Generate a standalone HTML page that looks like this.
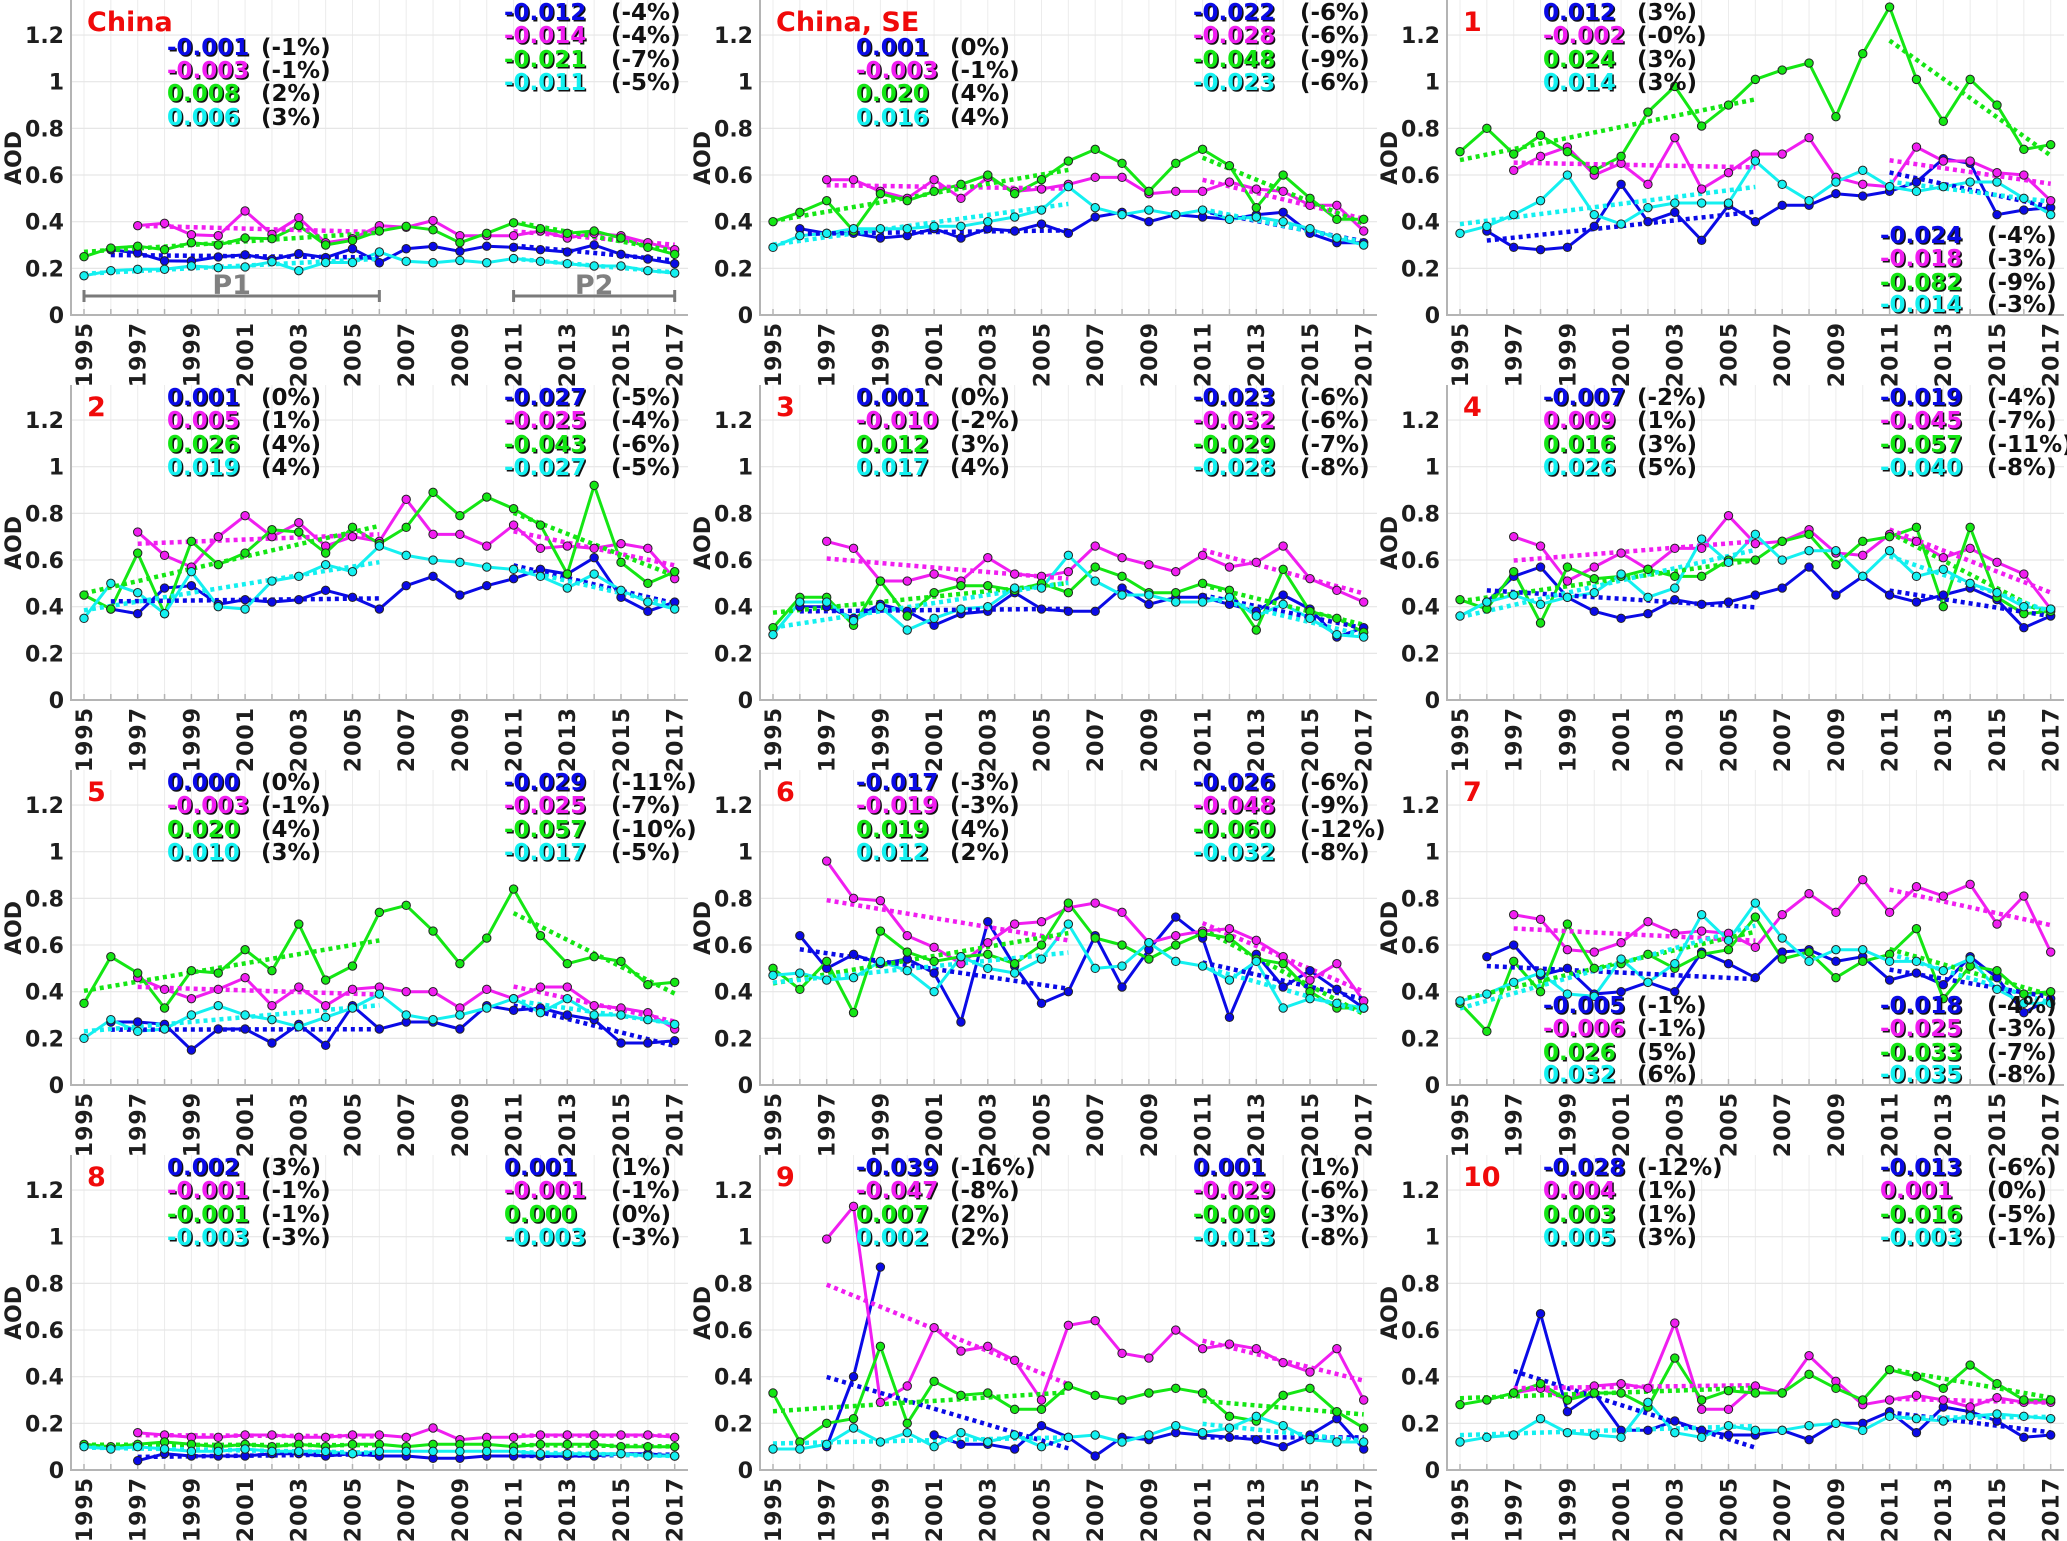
<!DOCTYPE html>
<html><head><meta charset="utf-8"><title>AOD trends</title>
<style>
html,body{margin:0;padding:0;background:#fff;}
svg{display:block;}
text{font-family:"DejaVu Sans","Liberation Sans",sans-serif;font-weight:bold;}
</style></head>
<body>
<svg id="chart" xmlns="http://www.w3.org/2000/svg" width="2067" height="1541" viewBox="0 0 2067 1541"></svg>
<script>
const years = [1995,1996,1997,1998,1999,2000,2001,2002,2003,2004,2005,2006,2007,2008,2009,2010,2011,2012,2013,2014,2015,2016,2017];
const yTicks = [0,0.2,0.4,0.6,0.8,1,1.2];
const yTickLabels = ["0","0.2","0.4","0.6","0.8","1","1.2"];
const panelTitles = ["China","China, SE","1","2","3","4","5","6","7","8","9","10"];

const p0Blue=[null,.28,.266,.232,.231,.249,.258,.238,.263,.246,.284,.224,.284,.294,.273,.295,.29,.28,.27,.30,.26,.24,.22];
const p0Mag=[null,null,.383,.393,.344,.34,.446,.346,.417,.31,.327,.383,.376,.405,.34,.34,.34,.36,.33,.35,.34,.31,.28];
const p0Green=[.25,.287,.295,.28,.31,.30,.33,.327,.383,.30,.32,.36,.38,.365,.31,.35,.395,.37,.35,.36,.33,.29,.26];
const p0Cyan=[.168,.19,.196,.196,.21,.203,.206,.228,.19,.225,.225,.27,.23,.224,.234,.224,.242,.23,.22,.21,.21,.19,.18];

const p1Blue=[null,.37,.35,.35,.33,.34,.37,.33,.37,.36,.39,.35,.42,.44,.40,.43,.42,.41,.43,.44,.35,.31,.31];
const p1Mag=[null,null,.58,.58,.53,.50,.58,.50,.59,.53,.54,.56,.59,.59,.52,.53,.53,.57,.54,.53,.47,.47,.36];
const p1Green=[.40,.44,.49,.36,.52,.49,.53,.56,.60,.52,.58,.66,.71,.65,.53,.65,.71,.64,.46,.60,.50,.41,.41];
const p1Cyan=[.29,.34,.35,.37,.37,.37,.38,.38,.40,.42,.45,.55,.46,.43,.45,.43,.45,.41,.42,.40,.37,.33,.30];

const p2Blue=[null,.36,.29,.28,.29,.38,.56,.40,.44,.32,.47,.40,.47,.47,.52,.51,.53,.57,.67,.65,.43,.45,.46];
const p2Mag=[null,null,.62,.68,.72,.60,.65,.56,.76,.54,.61,.69,.69,.76,.59,.56,.55,.72,.66,.66,.61,.60,.49];
const p2Green=[.70,.80,.69,.77,.70,.62,.68,.87,.98,.81,.90,1.01,1.05,1.08,.85,1.12,1.32,1.01,.83,1.01,.90,.71,.73];
const p2Cyan=[.35,.38,.43,.49,.60,.43,.39,.46,.48,.48,.48,.66,.56,.49,.57,.62,.55,.53,.55,.57,.57,.50,.43];

const p3Blue=[null,.39,.37,.48,.49,.41,.43,.42,.43,.47,.44,.39,.49,.53,.45,.49,.52,.56,.54,.61,.44,.38,.42];
const p3Mag=[null,null,.72,.62,.57,.70,.79,.70,.76,.66,.70,.68,.86,.71,.71,.66,.75,.65,.66,.65,.67,.65,.52];
const p3Green=[.45,.39,.63,.37,.68,.58,.63,.73,.72,.63,.74,.67,.74,.89,.79,.87,.82,.75,.54,.92,.59,.50,.55];
const p3Cyan=[.35,.50,.46,.37,.55,.40,.39,.51,.53,.58,.55,.66,.62,.60,.59,.57,.56,.53,.48,.54,.47,.42,.39];

const p4Blue=[null,.40,.40,.35,.41,.38,.32,.37,.38,.46,.39,.38,.38,.48,.41,.44,.44,.41,.38,.45,.39,.27,.31];
const p4Mag=[null,null,.68,.65,.51,.51,.54,.51,.61,.54,.53,.55,.66,.61,.58,.55,.62,.57,.59,.66,.52,.47,.42];
const p4Green=[.31,.44,.44,.32,.51,.36,.46,.49,.49,.47,.50,.46,.57,.53,.46,.46,.50,.47,.30,.56,.38,.35,.29];
const p4Cyan=[.28,.42,.42,.34,.40,.30,.35,.39,.40,.48,.48,.62,.51,.45,.45,.42,.42,.44,.36,.41,.35,.28,.27];

const p5Blue=[null,.42,.53,.57,.44,.38,.35,.37,.43,.41,.42,.45,.48,.57,.45,.53,.45,.42,.45,.48,.43,.31,.36];
const p5Mag=[null,null,.70,.66,.51,.57,.63,.56,.65,.65,.79,.67,.68,.73,.63,.62,.71,.68,.61,.65,.59,.54,.39];
const p5Green=[.43,.39,.55,.33,.57,.52,.53,.56,.53,.53,.60,.60,.68,.71,.58,.68,.70,.74,.40,.74,.44,.37,.38];
const p5Cyan=[.36,.42,.45,.41,.44,.46,.54,.44,.48,.69,.59,.71,.60,.64,.64,.53,.64,.53,.56,.50,.46,.40,.39];

const p6Blue=[null,.27,.27,.26,.15,.24,.24,.18,.26,.17,.34,.24,.27,.27,.24,.34,.32,.33,.30,.28,.18,.18,.19];
const p6Mag=[null,null,.46,.41,.37,.41,.46,.34,.42,.34,.41,.42,.40,.40,.33,.41,.37,.42,.42,.34,.33,.31,.24];
const p6Green=[.35,.55,.48,.33,.49,.48,.58,.49,.69,.45,.51,.74,.77,.66,.52,.63,.84,.64,.52,.55,.53,.43,.44];
const p6Cyan=[.20,.28,.23,.24,.30,.34,.30,.28,.25,.29,.33,.39,.30,.28,.30,.33,.37,.31,.37,.30,.30,.28,.26];

const p7Blue=[null,.64,.50,.56,.52,.54,.48,.27,.70,.51,.35,.40,.64,.42,.58,.72,.63,.29,.56,.42,.49,.41,.33];
const p7Mag=[null,null,.96,.80,.79,.64,.59,.52,.61,.69,.70,.76,.78,.74,.61,.64,.66,.67,.62,.55,.45,.52,.36];
const p7Green=[.50,.41,.53,.31,.66,.57,.53,.55,.56,.52,.60,.78,.63,.60,.54,.60,.65,.63,.54,.52,.40,.33,.33];
const p7Cyan=[.47,.48,.45,.46,.53,.49,.40,.55,.50,.48,.54,.69,.50,.51,.61,.53,.51,.45,.53,.33,.37,.35,.33];

const p8Blue=[null,.55,.60,.47,.50,.39,.40,.44,.40,.57,.52,.46,.57,.58,.53,.55,.45,.48,.43,.55,.46,.31,.37];
const p8Mag=[null,null,.73,.71,.58,.57,.61,.70,.65,.66,.65,.59,.73,.82,.74,.88,.74,.85,.81,.86,.69,.81,.57];
const p8Green=[.35,.23,.53,.40,.69,.50,.52,.56,.50,.56,.58,.72,.54,.57,.46,.53,.56,.67,.37,.51,.49,.39,.40];
const p8Cyan=[.36,.39,.44,.48,.39,.38,.54,.44,.52,.73,.62,.78,.63,.53,.58,.58,.53,.53,.49,.54,.41,.35,.35];

const p9Blue=[null,null,.04,.07,.06,.06,.06,.07,.07,.06,.07,.06,.06,.05,.05,.06,.06,.06,.06,.06,.07,.07,.06];
const p9Mag=[null,null,.16,.15,.14,.14,.15,.15,.14,.14,.15,.15,.14,.18,.13,.14,.14,.15,.15,.15,.15,.15,.14];
const p9Green=[.11,.10,.11,.12,.11,.10,.11,.10,.11,.10,.11,.11,.10,.11,.11,.11,.10,.11,.11,.11,.10,.10,.10];
const p9Cyan=[.10,.09,.10,.09,.08,.08,.09,.08,.08,.08,.07,.08,.08,.08,.08,.08,.08,.07,.07,.07,.07,.06,.06];

const p10Blue=[null,null,.10,.40,.87,null,.15,.11,.11,.09,.19,.14,.06,.14,.13,.16,.15,.14,.13,.10,.15,.22,.09];
const p10Mag=[null,null,.99,1.13,.29,.36,.61,.51,.53,.47,.30,.62,.64,.50,.48,.60,.52,.54,.52,.46,.42,.52,.30];
const p10Green=[.33,.12,.20,.22,.53,.20,.38,.32,.33,.26,.26,.36,.32,.30,.33,.35,.33,.23,.21,.32,.35,.25,.18];
const p10Cyan=[.09,.09,.11,.18,.12,.16,.10,.16,.12,.15,.10,.14,.15,.12,.15,.19,.16,.18,.23,.19,.13,.12,.12];

const p11Blue=[null,null,.33,.67,.25,.33,.17,.17,.21,.17,.15,.15,.17,.13,.20,.20,.25,.16,.27,.25,.21,.14,.15];
const p11Mag=[null,null,.33,.35,.30,.36,.37,.35,.63,.26,.26,.36,.33,.49,.38,.28,.30,.32,.30,.27,.31,.29,.29];
const p11Green=[.28,.30,.33,.37,.30,.33,.33,.27,.48,.30,.34,.33,.33,.41,.35,.30,.43,.40,.35,.45,.37,.30,.30];
const p11Cyan=[.12,.14,.15,.22,.16,.15,.14,.29,.16,.14,.19,.17,.17,.19,.20,.17,.23,.22,.21,.23,.24,.23,.22];

const leftSlopes=[["-0.001","-0.003","0.008","0.006"],["0.001","-0.003","0.020","0.016"],["0.012","-0.002","0.024","0.014"],["0.001","0.005","0.026","0.019"],["0.001","-0.010","0.012","0.017"],["-0.007","0.009","0.016","0.026"],["0.000","-0.003","0.020","0.010"],["-0.017","-0.019","0.019","0.012"],["-0.005","-0.006","0.026","0.032"],["0.002","-0.001","-0.001","-0.003"],["-0.039","-0.047","0.007","0.002"],["-0.028","0.004","0.003","0.005"]];
const leftPcts=[["(-1%)","(-1%)","(2%)","(3%)"],["(0%)","(-1%)","(4%)","(4%)"],["(3%)","(-0%)","(3%)","(3%)"],["(0%)","(1%)","(4%)","(4%)"],["(0%)","(-2%)","(3%)","(4%)"],["(-2%)","(1%)","(3%)","(5%)"],["(0%)","(-1%)","(4%)","(3%)"],["(-3%)","(-3%)","(4%)","(2%)"],["(-1%)","(-1%)","(5%)","(6%)"],["(3%)","(-1%)","(-1%)","(-3%)"],["(-16%)","(-8%)","(2%)","(2%)"],["(-12%)","(1%)","(1%)","(3%)"]];
const rightSlopes=[["-0.012","-0.014","-0.021","-0.011"],["-0.022","-0.028","-0.048","-0.023"],["-0.024","-0.018","-0.082","-0.014"],["-0.027","-0.025","-0.043","-0.027"],["-0.023","-0.032","-0.029","-0.028"],["-0.019","-0.045","-0.057","-0.040"],["-0.029","-0.025","-0.057","-0.017"],["-0.026","-0.048","-0.060","-0.032"],["-0.018","-0.025","-0.033","-0.035"],["0.001","-0.001","0.000","-0.003"],["0.001","-0.029","-0.009","-0.013"],["-0.013","0.001","-0.016","-0.003"]];
const rightPcts=[["(-4%)","(-4%)","(-7%)","(-5%)"],["(-6%)","(-6%)","(-9%)","(-6%)"],["(-4%)","(-3%)","(-9%)","(-3%)"],["(-5%)","(-4%)","(-6%)","(-5%)"],["(-6%)","(-6%)","(-7%)","(-8%)"],["(-4%)","(-7%)","(-11%)","(-8%)"],["(-11%)","(-7%)","(-10%)","(-5%)"],["(-6%)","(-9%)","(-12%)","(-8%)"],["(-4%)","(-3%)","(-7%)","(-8%)"],["(1%)","(-1%)","(0%)","(-3%)"],["(1%)","(-6%)","(-3%)","(-8%)"],["(-6%)","(0%)","(-5%)","(-1%)"]];

// layout (not data)
const X0=[84,773,1460], Z=[315,700,1085,1470], STEP=26.85, UNIT=233.3;
const HIGH=[-303,-280,-256,-233], MID=[-268,-245,-222,-198], LOW=[-80,-57,-33,-11];
const leftPos=[MID,MID,HIGH,HIGH,HIGH,HIGH,HIGH,HIGH,LOW,HIGH,HIGH,HIGH];
const rightPos=[HIGH,HIGH,LOW,HIGH,HIGH,HIGH,HIGH,HIGH,LOW,HIGH,HIGH,HIGH];
const COLORS=["#0a0ae6","#f01ef0","#14e614","#14f0f0"];
const SNAMES=["blue","magenta","green","cyan"];
const panelSeries=[[p0Blue,p0Mag,p0Green,p0Cyan],[p1Blue,p1Mag,p1Green,p1Cyan],[p2Blue,p2Mag,p2Green,p2Cyan],[p3Blue,p3Mag,p3Green,p3Cyan],[p4Blue,p4Mag,p4Green,p4Cyan],[p5Blue,p5Mag,p5Green,p5Cyan],[p6Blue,p6Mag,p6Green,p6Cyan],[p7Blue,p7Mag,p7Green,p7Cyan],[p8Blue,p8Mag,p8Green,p8Cyan],[p9Blue,p9Mag,p9Green,p9Cyan],[p10Blue,p10Mag,p10Green,p10Cyan],[p11Blue,p11Mag,p11Green,p11Cyan]];

const NS="http://www.w3.org/2000/svg";
const svg=document.getElementById('chart');
function mk(tag,attrs,parent){const e=document.createElementNS(NS,tag);for(const k in attrs)e.setAttribute(k,attrs[k]);(parent||svg).appendChild(e);return e;}
function xS(c,yr){return X0[c]+(yr-1995)*STEP;}
function yS(r,v){return Z[r]-v*UNIT;}
function fit(vals,a,b){let n=0,sx=0,sy=0,sxx=0,sxy=0,first=null;
  years.forEach((yr,i)=>{if(yr<a||yr>b||vals[i]==null)return;if(first===null)first=yr;n++;sx+=yr;sy+=vals[i];sxx+=yr*yr;sxy+=yr*vals[i];});
  if(n<2)return null;const m=(n*sxy-sx*sy)/(n*sxx-sx*sx);const c=(sy-m*sx)/n;return {m:m,c:c,first:first};}

panelSeries.forEach((series,p)=>{
  const c=p%3, r=Math.floor(p/3), x0=X0[c], z=Z[r];
  const g=mk('g',{});
  
  
  const L=x0-13, R=x0+604, T=z-315;
  // grid
  years.forEach(yr=>{const l=mk('line',{x1:xS(c,yr),x2:xS(c,yr),y1:T,y2:z,stroke:'#ececec','stroke-width':1},g);
    
    });
  yTicks.forEach((v,i)=>{ if(v>0){const l=mk('line',{x1:L,x2:R,y1:yS(r,v),y2:yS(r,v),stroke:'#e6e6e6','stroke-width':1.2},g);
    
    }
    const t=mk('text',{x:x0-20,y:yS(r,v)+8,'text-anchor':'end','font-size':22,fill:'#1e1e1e'},g);t.textContent=yTickLabels[i];
    
    });
  const ax=mk('line',{x1:L,x2:L,y1:T,y2:z+1,stroke:'#b4b4b4','stroke-width':2},g);
  
  
  const bx=mk('line',{x1:L,x2:R,y1:z,y2:z,stroke:'#b4b4b4','stroke-width':2},g);
  
  
  years.forEach(yr=>{const tk=mk('line',{x1:xS(c,yr),x2:xS(c,yr),y1:z,y2:z-6,stroke:'#b4b4b4','stroke-width':1.5},g);
    
    
    if(yr%2===1){const t=mk('text',{x:0,y:0,'text-anchor':'end','font-size':22,'letter-spacing':1,fill:'#1e1e1e',dy:'.36em',transform:'translate('+xS(c,yr)+','+(z+7)+') rotate(-90)'},g);t.textContent=String(yr);
      
      }});
  const yl=mk('text',{x:0,y:0,'text-anchor':'middle','font-size':22,fill:'#1e1e1e',dy:'.36em',transform:'translate('+(x0-71)+','+(z-157)+') rotate(-90)'},g);yl.textContent='AOD';
  
  
  // series lines & markers
  series.forEach((vals,s)=>{
    let d='',pen=false;
    vals.forEach((v,i)=>{if(v==null){pen=false;return;}d+=(pen?'L':'M')+xS(c,years[i]).toFixed(1)+','+yS(r,v).toFixed(1);pen=true;});
    const pl=mk('path',{d:d,fill:'none',stroke:COLORS[s],'stroke-width':3,'stroke-linejoin':'round'},g);
    
    
  });
  series.forEach((vals,s)=>{
    [[1995,2006],[2011,2017]].forEach(per=>{const f=fit(vals,per[0],per[1]);if(!f)return;
      const tl=mk('line',{x1:xS(c,f.first),y1:yS(r,f.m*f.first+f.c),x2:xS(c,per[1]),y2:yS(r,f.m*per[1]+f.c),stroke:COLORS[s],'stroke-width':4.5,'stroke-dasharray':'4 4'},g);
      
      });
  });
  series.forEach((vals,s)=>{
    vals.forEach((v,i)=>{if(v==null)return;const m=mk('circle',{cx:xS(c,years[i]),cy:yS(r,v),r:4.2,fill:COLORS[s],stroke:'#222','stroke-width':1},g);
      
      });
  });
  // annotations
  function shadowText(x,y,str,col,name){
    if(col!=='#111'){const sh=mk('text',{x:x+1.5,y:y+1.5,'font-size':23,fill:'#111'},g);sh.textContent=str;
      
      }
    const t=mk('text',{x:x,y:y,'font-size':23,fill:col},g);t.textContent=str;
    
    }
  for(let k=0;k<4;k++){
    shadowText(x0+83,z+leftPos[p][k]+8,leftSlopes[p][k],COLORS[k],'p1-trend-value');
    shadowText(x0+177,z+leftPos[p][k]+8,leftPcts[p][k],'#111','p1-trend-percent');
    shadowText(x0+420,z+rightPos[p][k]+8,rightSlopes[p][k],COLORS[k],'p2-trend-value');
    shadowText(x0+527,z+rightPos[p][k]+8,rightPcts[p][k],'#111','p2-trend-percent');
  }
  const tt=mk('text',{x:x0+3,y:z-284,'font-size':27,fill:'#f00a0a'},g);tt.textContent=panelTitles[p];
  
  
  if(p===0){
    [[1995,2006,'P1'],[2011,2017,'P2']].forEach(b=>{
      const y=z-19, xa=xS(c,b[0]), xb=xS(c,b[1]);
      const br=mk('path',{d:'M'+xa+','+(y-6)+'V'+(y+6)+'M'+xa+','+y+'H'+xb+'M'+xb+','+(y-6)+'V'+(y+6),stroke:'#7a7a7a','stroke-width':3,fill:'none'},g);
      
      
      const pt=mk('text',{x:(xa+xb)/2,y:y-2,'text-anchor':'middle','font-size':27,fill:'#808080'},g);pt.textContent=b[2];
      
      
    });
  }
});
</script>
</body></html>
